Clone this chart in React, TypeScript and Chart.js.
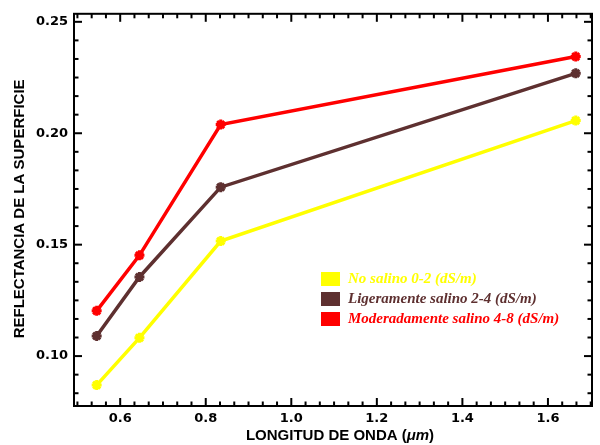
import React, { useEffect, useRef } from "react";
import { Chart, registerables } from "chart.js";

Chart.register(...registerables);

// ---- data ----
const wavelengths = [0.545, 0.645, 0.835, 1.665];
const noSalino = [0.087, 0.1082, 0.1516, 0.2057];
const ligeramente = [0.109, 0.1355, 0.1758, 0.2269];
const moderadamente = [0.1203, 0.1452, 0.2039, 0.2344];
const seriesLabels = [
  "No salino 0-2 (dS/m)",
  "Ligeramente salino 2-4 (dS/m)",
  "Moderadamente salino 4-8 (dS/m)",
];
const seriesColors = ["#FFFF00", "#5E3030", "#FF0000"];
const xTicks = [0.6, 0.8, 1.0, 1.2, 1.4, 1.6];
const yTicks = [0.1, 0.15, 0.2, 0.25];
const xRange = [0.492, 1.703];
const yRange = [0.0776, 0.2536];
const xTitleMain = "LONGITUD DE ONDA (";
const xTitleUnit = "\u03bcm";
const xTitleEnd = ")";
const yTitle = "REFLECTANCIA DE LA SUPERFICIE";

const xMinorStep = 0.2 / 6;
const yMinorStep = 0.05 / 6;

const SANS = "'Liberation Sans', Arial, sans-serif";
const TICKFONT = "'DejaVu Sans', 'Liberation Sans', sans-serif";
const SERIF = "'Liberation Serif', 'Times New Roman', serif";

const decorPlugin = {
  id: "decor",
  afterDraw(chart: any) {
    const { ctx, chartArea: a, scales } = chart;
    const x = scales.x;
    const y = scales.y;
    ctx.save();
    ctx.strokeStyle = "#000";
    ctx.lineWidth = 2;
    ctx.strokeRect(a.left, a.top, a.right - a.left, a.bottom - a.top);

    const line = (x1: number, y1: number, x2: number, y2: number) => {
      ctx.beginPath();
      ctx.moveTo(x1, y1);
      ctx.lineTo(x2, y2);
      ctx.stroke();
    };
    // x ticks (bottom + top), inward
    for (let i = -30; i <= 60; i++) {
      const v = 0.6 + i * xMinorStep;
      if (v < xRange[0] || v > xRange[1]) continue;
      const px = x.getPixelForValue(v);
      const len = i % 6 === 0 ? 8 : 4.5;
      line(px, a.bottom, px, a.bottom - len);
      line(px, a.top, px, a.top + len);
    }
    // y ticks (left + right), inward
    for (let j = -30; j <= 60; j++) {
      const v = 0.1 + j * yMinorStep;
      if (v < yRange[0] || v > yRange[1]) continue;
      const py = y.getPixelForValue(v);
      const len = j % 6 === 0 ? 8 : 4.5;
      line(a.left, py, a.left + len, py);
      line(a.right, py, a.right - len, py);
    }

    // x title with italic unit
    ctx.fillStyle = "#000";
    ctx.textBaseline = "alphabetic";
    ctx.textAlign = "left";
    const fB = `bold 15px ${SANS}`;
    const fI = `italic bold 15px ${SANS}`;
    ctx.font = fB;
    const w1 = ctx.measureText(xTitleMain).width;
    const w3 = ctx.measureText(xTitleEnd).width;
    ctx.font = fI;
    const w2 = ctx.measureText(xTitleUnit).width;
    const total = w1 + w2 + w3;
    const cx = (a.left + a.right) / 2 + 7;
    let tx = cx - total / 2;
    const ty = 440;
    ctx.font = fB;
    ctx.fillText(xTitleMain, tx, ty);
    tx += w1;
    ctx.font = fI;
    ctx.fillText(xTitleUnit, tx, ty);
    tx += w2;
    ctx.font = fB;
    ctx.fillText(xTitleEnd, tx, ty);

    // y title
    ctx.save();
    ctx.translate(23.5, (a.top + a.bottom) / 2 - 1);
    ctx.rotate(-Math.PI / 2);
    ctx.textAlign = "center";
    ctx.font = fB;
    ctx.fillText(yTitle, 0, 0);
    ctx.restore();

    // legend
    const lx = 321;
    const ly = 272;
    const rowH = 20;
    ctx.font = `italic bold 15px ${SERIF}`;
    ctx.textAlign = "left";
    ctx.textBaseline = "middle";
    chart.data.datasets.forEach((ds: any, k: number) => {
      const top = ly + k * rowH;
      ctx.fillStyle = ds.borderColor;
      ctx.fillRect(lx, top, 19, 14);
      ctx.fillText(ds.label, lx + 27, top + 7.5);
    });
    ctx.restore();
  },
};

export default function App() {
  const ref = useRef<HTMLCanvasElement | null>(null);
  useEffect(() => {
    if (!ref.current) return;
    const series = [noSalino, ligeramente, moderadamente];
    const chart = new Chart(ref.current, {
      type: "line",
      data: {
        datasets: series.map((vals, k) => ({
          label: seriesLabels[k],
          data: wavelengths.map((w, i) => ({ x: w, y: vals[i] })),
          borderColor: seriesColors[k],
          backgroundColor: seriesColors[k],
          borderWidth: 3.5,
          pointStyle: "star",
          pointRadius: 5,
          pointBorderWidth: 3,
          pointBackgroundColor: seriesColors[k],
          pointBorderColor: seriesColors[k],
          tension: 0,
          fill: false,
        })),
      },
      options: {
        animation: false,
        responsive: false,
        events: [],
        layout: { padding: { top: 13, right: 2, left: 0, bottom: 0 } },
        plugins: { legend: { display: false }, tooltip: { enabled: false } },
        scales: {
          x: {
            type: "linear",
            min: xRange[0],
            max: xRange[1],
            grid: { display: false, drawTicks: false },
            border: { display: false },
            afterBuildTicks: (s: any) => {
              s.ticks = xTicks.map((v) => ({ value: v }));
            },
            afterFit: (s: any) => {
              s.height = 39;
            },
            ticks: {
              padding: 5,
              color: "#000",
              font: { family: TICKFONT, weight: "bold", size: 13 },
              callback: (v: any) => Number(v).toFixed(1),
              maxRotation: 0,
              autoSkip: false,
            },
          },
          y: {
            type: "linear",
            min: yRange[0],
            max: yRange[1],
            grid: { display: false, drawTicks: false },
            border: { display: false },
            afterBuildTicks: (s: any) => {
              s.ticks = yTicks.map((v) => ({ value: v }));
            },
            afterFit: (s: any) => {
              s.width = 74;
            },
            ticks: {
              padding: 6,
              color: "#000",
              font: { family: TICKFONT, weight: "bold", size: 13 },
              callback: (v: any) => Number(v).toFixed(2),
              autoSkip: false,
            },
          },
        },
      } as any,
      plugins: [decorPlugin],
    });
    return () => chart.destroy();
  }, []);
  return (
    <div style={{ position: "fixed", left: 0, top: 0, width: 600, height: 445, background: "#fff" }}>
      <canvas ref={ref} width={600} height={445} style={{ display: "block" }} />
    </div>
  );
}
